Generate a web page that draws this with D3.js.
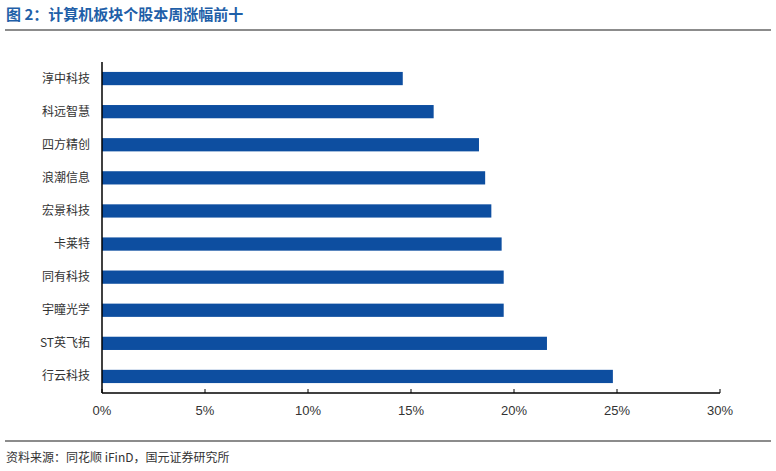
<!DOCTYPE html>
<html><head><meta charset="utf-8">
<script src="https://cdn.jsdelivr.net/npm/d3@7"></script>
<style>body{margin:0;background:#fff;}</style>
</head><body>
<svg id="chart" width="776" height="471"></svg>
<script>
var categories = ['淳中科技','科远智慧','四方精创','浪潮信息','宏景科技','卡莱特','同有科技','宇瞳光学','ST英飞拓','行云科技'];
var values = [14.6, 16.1, 18.3, 18.6, 18.9, 19.4, 19.5, 19.5, 21.6, 24.8];
var tickValues = [0, 5, 10, 15, 20, 25, 30];

var svg = d3.select('#chart');
var font = '"Noto Sans CJK SC", sans-serif';

svg.append('text').attr('x', 6).attr('y', 20)
	.attr('font-family', font).attr('font-size', 15).attr('font-weight', 'bold')
	.attr('fill', '#1f5fa8').text('图 2：计算机板块个股本周涨幅前十');
svg.append('line').attr('x1', 5).attr('x2', 771).attr('y1', 30).attr('y2', 30)
	.attr('stroke', '#666').attr('stroke-width', 1.5);

var x = d3.scaleLinear().domain([0, 30]).range([102, 720]);
var y = d3.scaleBand().domain(categories).range([62, 393]).paddingInner(0.6).paddingOuter(0.3);

svg.selectAll('rect.bar').data(values).enter().append('rect')
	.attr('class', 'bar')
	.attr('x', x(0))
	.attr('y', function(d, i) { return y(categories[i]); })
	.attr('width', function(d) { return x(d) - x(0); })
	.attr('height', y.bandwidth())
	.attr('fill', '#0d4ea0');

svg.selectAll('text.cat').data(categories).enter().append('text')
	.attr('class', 'cat')
	.attr('x', 90)
	.attr('y', function(d) { return y(d) + y.bandwidth() / 2 + 4; })
	.attr('text-anchor', 'end')
	.attr('font-family', font).attr('font-size', 12).attr('fill', '#333')
	.text(function(d) { return d; });

svg.append('line').attr('x1', x(0)).attr('x2', x(0)).attr('y1', 62).attr('y2', 393)
	.attr('stroke', '#000').attr('stroke-width', 1.5);
svg.append('line').attr('x1', x(0)).attr('x2', x(30)).attr('y1', 393).attr('y2', 393)
	.attr('stroke', '#000').attr('stroke-width', 1.5);
svg.selectAll('line.tick').data(tickValues).enter().append('line')
	.attr('x1', function(d) { return x(d); }).attr('x2', function(d) { return x(d); })
	.attr('y1', 389).attr('y2', 393).attr('stroke', '#000');
svg.selectAll('text.tick').data(tickValues).enter().append('text')
	.attr('x', function(d) { return x(d); }).attr('y', 415)
	.attr('text-anchor', 'middle')
	.attr('font-family', 'Liberation Sans, Arial, sans-serif').attr('font-size', 13).attr('fill', '#333')
	.text(function(d) { return d + '%'; });

svg.append('line').attr('x1', 5).attr('x2', 771).attr('y1', 441).attr('y2', 441)
	.attr('stroke', '#666').attr('stroke-width', 1.5);
svg.append('text').attr('x', 6).attr('y', 462)
	.attr('font-family', font).attr('font-size', 12).attr('fill', '#333')
	.text('资料来源：同花顺 iFinD，国元证券研究所');
</script>
</body></html>
